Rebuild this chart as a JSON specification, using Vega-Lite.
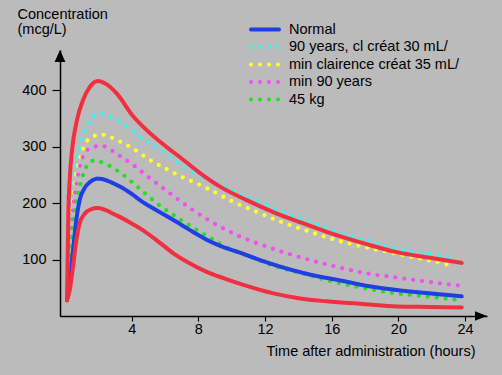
{
  "$schema": "https://vega.github.io/schema/vega-lite/v6.json",
  "width": 427,
  "height": 266,
  "autosize": {"type": "none"},
  "padding": {"left": 60, "top": 50, "right": 15, "bottom": 59},
  "background": "#bbbbbb",
  "config": {
    "view": {"stroke": null},
    "font": "Liberation Sans",
    "axis": {
      "labelFont": "Liberation Sans", "labelFontSize": 14.5, "labelColor": "black",
      "titleFont": "Liberation Sans", "titleFontSize": 14.5, "titleFontWeight": "normal", "titleColor": "black",
      "tickColor": "black", "tickWidth": 1.2, "domainColor": "black", "domainWidth": 1.5,
      "grid": false, "labelOverlap": false, "labelFlush": false
    }
  },
  "data": {"values": [
    {"s":"Upper","t":0.12,"c":28},{"s":"Upper","t":0.2,"c":180},{"s":"Upper","t":0.3,"c":250},{"s":"Upper","t":0.42,"c":293},{"s":"Upper","t":0.72,"c":347},{"s":"Upper","t":1.08,"c":382},{"s":"Upper","t":1.5,"c":406},{"s":"Upper","t":1.98,"c":416},{"s":"Upper","t":2.5,"c":410},{"s":"Upper","t":3.1,"c":394},{"s":"Upper","t":4.1,"c":353},{"s":"Upper","t":4.9,"c":329},{"s":"Upper","t":6.1,"c":299},{"s":"Upper","t":6.9,"c":281},{"s":"Upper","t":8.1,"c":253},{"s":"Upper","t":9.3,"c":229},{"s":"Upper","t":10.9,"c":205},{"s":"Upper","t":12.5,"c":184},{"s":"Upper","t":14.1,"c":166},{"s":"Upper","t":15.7,"c":149},{"s":"Upper","t":18.0,"c":128},{"s":"Upper","t":19.9,"c":113},{"s":"Upper","t":21.9,"c":103},{"s":"Upper","t":23.8,"c":94},
    {"s":"Lower","t":0.12,"c":28},{"s":"Lower","t":0.28,"c":45},{"s":"Lower","t":0.48,"c":87},{"s":"Lower","t":0.68,"c":134},{"s":"Lower","t":0.88,"c":164},{"s":"Lower","t":1.18,"c":181},{"s":"Lower","t":1.58,"c":189},{"s":"Lower","t":1.94,"c":191},{"s":"Lower","t":3.1,"c":178},{"s":"Lower","t":4.1,"c":162},{"s":"Lower","t":4.5,"c":155},{"s":"Lower","t":5.5,"c":134},{"s":"Lower","t":6.5,"c":111},{"s":"Lower","t":7.5,"c":93},{"s":"Lower","t":8.5,"c":78},{"s":"Lower","t":9.5,"c":67},{"s":"Lower","t":10.7,"c":55},{"s":"Lower","t":12.5,"c":40},{"s":"Lower","t":14.1,"c":31},{"s":"Lower","t":15.7,"c":26},{"s":"Lower","t":18.0,"c":21},{"s":"Lower","t":19.9,"c":17},{"s":"Lower","t":21.9,"c":16},{"s":"Lower","t":23.8,"c":15},
    {"s":"Normal","t":0.12,"c":28},{"s":"Normal","t":0.28,"c":57},{"s":"Normal","t":0.48,"c":116},{"s":"Normal","t":0.68,"c":170},{"s":"Normal","t":0.88,"c":205},{"s":"Normal","t":1.15,"c":225},{"s":"Normal","t":1.5,"c":237},{"s":"Normal","t":1.98,"c":243},{"s":"Normal","t":3.1,"c":232},{"s":"Normal","t":4.1,"c":214},{"s":"Normal","t":4.5,"c":205},{"s":"Normal","t":5.5,"c":187},{"s":"Normal","t":6.5,"c":170},{"s":"Normal","t":7.5,"c":152},{"s":"Normal","t":8.5,"c":135},{"s":"Normal","t":9.5,"c":122},{"s":"Normal","t":10.5,"c":112},{"s":"Normal","t":11.7,"c":99},{"s":"Normal","t":13.3,"c":84},{"s":"Normal","t":14.9,"c":72},{"s":"Normal","t":16.5,"c":63},{"s":"Normal","t":18.0,"c":54},{"s":"Normal","t":19.9,"c":46},{"s":"Normal","t":21.9,"c":40},{"s":"Normal","t":23.8,"c":35},
    {"s":"90 years, cl créat 30 mL/","t":0.12,"c":28},{"s":"90 years, cl créat 30 mL/","t":0.28,"c":150},{"s":"90 years, cl créat 30 mL/","t":0.48,"c":235},{"s":"90 years, cl créat 30 mL/","t":0.78,"c":288},{"s":"90 years, cl créat 30 mL/","t":1.08,"c":320},{"s":"90 years, cl créat 30 mL/","t":1.5,"c":345},{"s":"90 years, cl créat 30 mL/","t":1.98,"c":359},{"s":"90 years, cl créat 30 mL/","t":2.5,"c":355},{"s":"90 years, cl créat 30 mL/","t":3.1,"c":347},{"s":"90 years, cl créat 30 mL/","t":4.0,"c":329},{"s":"90 years, cl créat 30 mL/","t":4.9,"c":308},{"s":"90 years, cl créat 30 mL/","t":5.8,"c":294},{"s":"90 years, cl créat 30 mL/","t":6.7,"c":273},{"s":"90 years, cl créat 30 mL/","t":7.7,"c":255},{"s":"90 years, cl créat 30 mL/","t":8.9,"c":237},{"s":"90 years, cl créat 30 mL/","t":10.1,"c":220},{"s":"90 years, cl créat 30 mL/","t":11.7,"c":202},{"s":"90 years, cl créat 30 mL/","t":13.3,"c":181},{"s":"90 years, cl créat 30 mL/","t":14.9,"c":164},{"s":"90 years, cl créat 30 mL/","t":16.3,"c":149},{"s":"90 years, cl créat 30 mL/","t":18.0,"c":135},{"s":"90 years, cl créat 30 mL/","t":19.9,"c":119},{"s":"90 years, cl créat 30 mL/","t":21.9,"c":110},{"s":"90 years, cl créat 30 mL/","t":23.4,"c":101},
    {"s":"min clairence créat 35 mL/","t":0.12,"c":28},{"s":"min clairence créat 35 mL/","t":0.34,"c":164},{"s":"min clairence créat 35 mL/","t":0.58,"c":235},{"s":"min clairence créat 35 mL/","t":0.88,"c":276},{"s":"min clairence créat 35 mL/","t":1.28,"c":308},{"s":"min clairence créat 35 mL/","t":1.7,"c":318},{"s":"min clairence créat 35 mL/","t":2.16,"c":321},{"s":"min clairence créat 35 mL/","t":3.2,"c":310},{"s":"min clairence créat 35 mL/","t":4.2,"c":294},{"s":"min clairence créat 35 mL/","t":5.1,"c":276},{"s":"min clairence créat 35 mL/","t":6.1,"c":260},{"s":"min clairence créat 35 mL/","t":7.1,"c":245},{"s":"min clairence créat 35 mL/","t":8.1,"c":232},{"s":"min clairence créat 35 mL/","t":8.6,"c":225},{"s":"min clairence créat 35 mL/","t":10.1,"c":202},{"s":"min clairence créat 35 mL/","t":11.6,"c":183},{"s":"min clairence créat 35 mL/","t":13.2,"c":164},{"s":"min clairence créat 35 mL/","t":14.7,"c":149},{"s":"min clairence créat 35 mL/","t":16.3,"c":134},{"s":"min clairence créat 35 mL/","t":18.0,"c":122},{"s":"min clairence créat 35 mL/","t":19.9,"c":110},{"s":"min clairence créat 35 mL/","t":21.9,"c":98},{"s":"min clairence créat 35 mL/","t":23.4,"c":88},
    {"s":"min 90 years","t":0.12,"c":28},{"s":"min 90 years","t":0.36,"c":150},{"s":"min 90 years","t":0.6,"c":218},{"s":"min 90 years","t":0.88,"c":264},{"s":"min 90 years","t":1.28,"c":292},{"s":"min 90 years","t":1.7,"c":299},{"s":"min 90 years","t":2.18,"c":301},{"s":"min 90 years","t":3.2,"c":285},{"s":"min 90 years","t":4.1,"c":267},{"s":"min 90 years","t":5.0,"c":246},{"s":"min 90 years","t":5.9,"c":226},{"s":"min 90 years","t":6.8,"c":206},{"s":"min 90 years","t":7.7,"c":187},{"s":"min 90 years","t":8.6,"c":170},{"s":"min 90 years","t":10.1,"c":146},{"s":"min 90 years","t":11.6,"c":128},{"s":"min 90 years","t":13.1,"c":113},{"s":"min 90 years","t":14.7,"c":99},{"s":"min 90 years","t":16.3,"c":87},{"s":"min 90 years","t":18.0,"c":76},{"s":"min 90 years","t":19.9,"c":68},{"s":"min 90 years","t":21.9,"c":60},{"s":"min 90 years","t":23.6,"c":54},
    {"s":"45 kg","t":0.12,"c":28},{"s":"45 kg","t":0.4,"c":140},{"s":"45 kg","t":0.68,"c":199},{"s":"45 kg","t":0.94,"c":235},{"s":"45 kg","t":1.28,"c":264},{"s":"45 kg","t":1.74,"c":275},{"s":"45 kg","t":2.1,"c":273},{"s":"45 kg","t":3.2,"c":256},{"s":"45 kg","t":4.1,"c":235},{"s":"45 kg","t":5.0,"c":212},{"s":"45 kg","t":5.8,"c":193},{"s":"45 kg","t":6.7,"c":175},{"s":"45 kg","t":7.6,"c":158},{"s":"45 kg","t":8.6,"c":140},{"s":"45 kg","t":9.8,"c":120},{"s":"45 kg","t":11.1,"c":105},{"s":"45 kg","t":12.7,"c":87},{"s":"45 kg","t":14.3,"c":75},{"s":"45 kg","t":15.9,"c":62},{"s":"45 kg","t":18.0,"c":49},{"s":"45 kg","t":19.9,"c":40},{"s":"45 kg","t":21.9,"c":34},{"s":"45 kg","t":23.7,"c":28}
  ]},
  "layer": [
    {
      "transform": [{"filter": "indexof(['Upper','Lower','Normal'], datum.s) < 0"}],
      "mark": {"type": "line", "interpolate": "monotone", "strokeWidth": 4.3, "strokeCap": "round"},
      "encoding": {
        "x": {"field": "t", "type": "quantitative",
          "scale": {"domain": [-0.3, 25.315], "nice": false, "zero": false},
          "axis": {"values": [4, 8, 12, 16, 20, 24], "title": "Time after administration (hours)",
            "tickSize": 5, "labelPadding": 1, "titleX": 415, "titleY": 39.5, "titleAlign": "right",
            "titleAnchor": "start", "titleBaseline": "alphabetic"}},
        "y": {"field": "c", "type": "quantitative",
          "scale": {"domain": [0, 470.8], "nice": false, "zero": false},
          "axis": {"values": [100, 200, 300, 400], "title": ["Concentration", "(mcg/L)"],
            "titleAngle": 0, "titleAlign": "left", "titleBaseline": "alphabetic", "titleAnchor": "start",
            "titleX": -43, "titleY": -31.5, "titleLineHeight": 14.5, "tickSize": 8, "labelPadding": 6}},
        "color": {"field": "s", "type": "nominal",
          "scale": {"domain": ["Normal", "90 years, cl créat 30 mL/", "min clairence créat 35 mL/", "min 90 years", "45 kg"],
                    "range": ["#1f3fe6", "#40f0f0", "#ffff20", "#f050f0", "#20e020"]},
          "legend": {"title": null, "orient": "none", "legendX": 196, "legendY": -29.5, "padding": 0,
            "rowPadding": 0.5, "symbolType": "M-2,0H2", "symbolSize": 196, "symbolStrokeWidth": 4,
            "symbolOffset": 0, "labelOffset": 15, "labelFont": "Liberation Sans", "labelFontSize": 14.5,
            "labelColor": "black", "labelLimit": 400,
            "encode": {"symbols": {"update": {
              "strokeCap": {"value": "round"},
              "strokeDash": [{"test": "datum.value === 'Normal'", "value": [1, 0]}, {"value": [0, 6.5]}]}}}}},
        "strokeDash": {"field": "s", "type": "nominal",
          "scale": {"domain": ["Normal", "90 years, cl créat 30 mL/", "min clairence créat 35 mL/", "min 90 years", "45 kg"],
                    "range": [[1, 0], [0, 9], [0, 9], [0, 9], [0, 9]]},
          "legend": {"title": null, "orient": "none", "legendX": 196, "legendY": -29.5, "padding": 0,
            "rowPadding": 0.5, "symbolType": "M-2,0H2", "symbolSize": 196, "symbolStrokeWidth": 4,
            "symbolOffset": 0, "labelOffset": 15, "labelFont": "Liberation Sans", "labelFontSize": 14.5,
            "labelColor": "black", "labelLimit": 400,
            "encode": {"symbols": {"update": {
              "strokeCap": {"value": "round"},
              "strokeDash": [{"test": "datum.value === 'Normal'", "value": [1, 0]}, {"value": [0, 6.5]}]}}}}}
      }
    },
    {
      "transform": [{"filter": "datum.s === 'Normal'"}],
      "mark": {"type": "line", "interpolate": "monotone", "strokeWidth": 4, "strokeCap": "round"},
      "encoding": {
        "x": {"field": "t", "type": "quantitative"},
        "y": {"field": "c", "type": "quantitative"},
        "color": {"field": "s", "type": "nominal"},
        "strokeDash": {"field": "s", "type": "nominal"}
      }
    },
    {
      "transform": [{"filter": "datum.s === 'Upper' || datum.s === 'Lower'"}],
      "mark": {"type": "line", "interpolate": "monotone", "strokeWidth": 4, "strokeCap": "round", "color": "#f03040"},
      "encoding": {
        "x": {"field": "t", "type": "quantitative"},
        "y": {"field": "c", "type": "quantitative"},
        "detail": {"field": "s", "type": "nominal"}
      }
    },
    {
      "data": {"values": [{}]},
      "mark": {"type": "point", "shape": "M0,-1L-0.9,1L0.9,1Z", "filled": true, "color": "black", "opacity": 1, "size": 144},
      "encoding": {"x": {"datum": -0.3}, "y": {"datum": 460}}
    },
    {
      "data": {"values": [{}]},
      "mark": {"type": "point", "shape": "M1,0L-1,-0.8L-1,0.8Z", "filled": true, "color": "black", "opacity": 1, "size": 144},
      "encoding": {"x": {"datum": 24.955}, "y": {"datum": 0}}
    }
  ]
}
